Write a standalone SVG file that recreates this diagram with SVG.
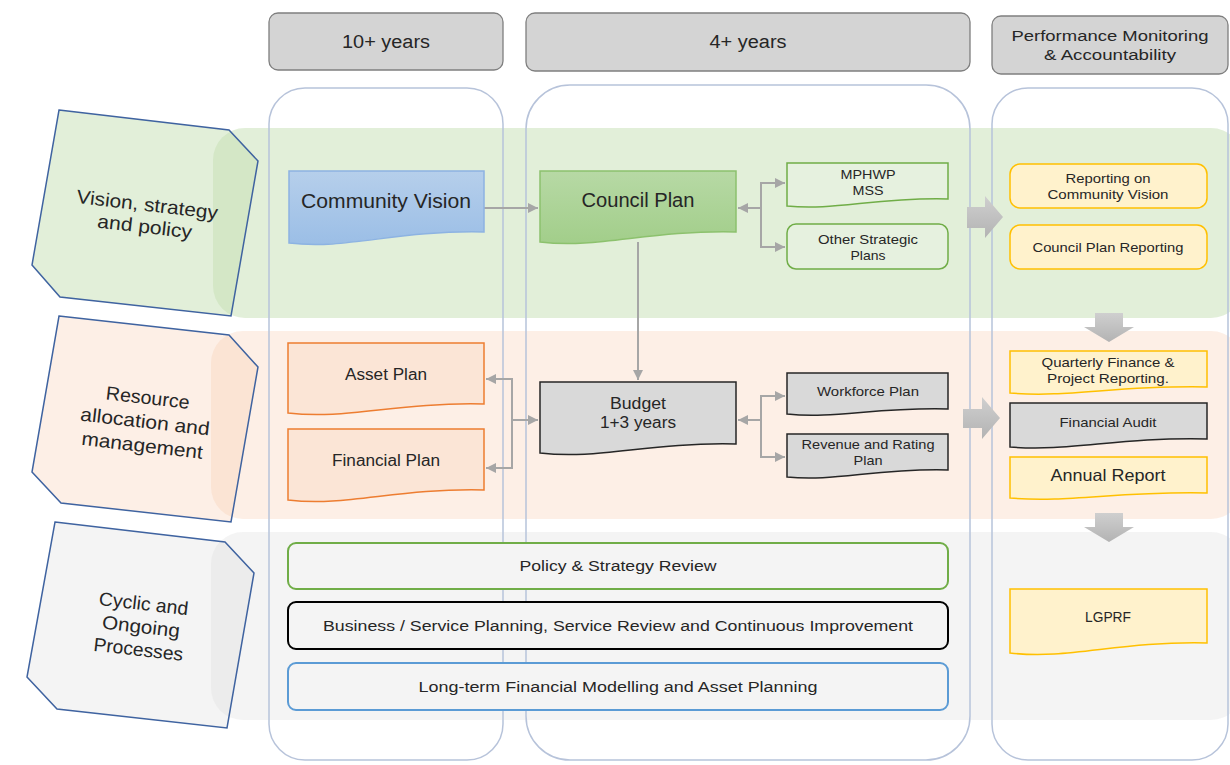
<svg xmlns="http://www.w3.org/2000/svg" width="1230" height="765" viewBox="0 0 1230 765">
<style>
text{font-family:"Liberation Sans",Arial,sans-serif;fill:#262626;text-anchor:middle}
.hdr{fill:#d4d4d4;stroke:#7f7f7f;stroke-width:1.3}
.col{fill:none;stroke:#b7c3da;stroke-width:1.5}
.lab{stroke:#3f63a0;stroke-width:1.5}
.con{fill:none;stroke:#a6a6a6;stroke-width:2}
.yel{fill:#fff2cc;stroke:#ffc000;stroke-width:1.5}
.gry{fill:#d9d9d9;stroke:#262626;stroke-width:1.5}
.org{fill:#fbe5d6;stroke:#ed7d31;stroke-width:1.5}
.grn{fill:#e6f1df;stroke:#70ad47;stroke-width:1.5}
.blk{fill:url(#ga)}
</style>
<defs>
<marker id="ah" viewBox="0 0 10 10" refX="10" refY="5" markerWidth="5" markerHeight="5" orient="auto-start-reverse"><path d="M0 0L10 5L0 10Z" fill="#a6a6a6"/></marker>
<linearGradient id="gb" x1="0" y1="0" x2="0" y2="1"><stop offset="0" stop-color="#b6cfeb"/><stop offset="1" stop-color="#9bbee6"/></linearGradient>
<linearGradient id="gg" x1="0" y1="0" x2="0" y2="1"><stop offset="0" stop-color="#b7d9a5"/><stop offset="1" stop-color="#a2ce8a"/></linearGradient>
<linearGradient id="ga" x1="0" y1="0" x2="0" y2="1"><stop offset="0" stop-color="#cfcfcf"/><stop offset="1" stop-color="#b3b3b3"/></linearGradient>
</defs>

<g id="bands">
<rect x="213" y="128" width="1030" height="190" rx="32" fill="#c5e0b3" fill-opacity="0.5"/>
<rect x="211" y="331" width="1032" height="188" rx="32" fill="#f8cbad" fill-opacity="0.3"/>
<rect x="211" y="532" width="1032" height="188" rx="32" fill="#d9d9d9" fill-opacity="0.28"/>
</g>

<g id="columns">
<rect class="col" x="269" y="88" width="234" height="672" rx="36"/>
<rect class="col" x="526" y="85" width="444" height="675" rx="44"/>
<rect class="col" x="992" y="88" width="236" height="672" rx="36"/>
</g>

<g id="headers">
<g id="h1"><rect class="hdr" x="269" y="13" width="234" height="57" rx="9"/><text x="386" y="48" font-size="18" textLength="88" lengthAdjust="spacingAndGlyphs">10+ years</text></g>
<g id="h2"><rect class="hdr" x="526" y="13" width="444" height="58" rx="9"/><text x="748" y="48" font-size="18" textLength="77" lengthAdjust="spacingAndGlyphs">4+ years</text></g>
<g id="h3"><rect class="hdr" x="992" y="16" width="236" height="58" rx="9"/><text x="1110" y="41" font-size="15.5" textLength="197" lengthAdjust="spacingAndGlyphs">Performance Monitoring</text><text x="1110" y="60" font-size="15.5" textLength="132" lengthAdjust="spacingAndGlyphs">&amp; Accountability</text></g>
</g>

<g id="label-vision">
<polygon class="lab" points="59,110 229,130 258,161 231,316 60,297 32,265" fill="#c5e0b3" fill-opacity="0.5"/>
<g transform="rotate(6.6 146 216)"><text x="146" y="211" font-size="19" textLength="142" lengthAdjust="spacingAndGlyphs">Vision, strategy</text><text x="146" y="233" font-size="19" textLength="95" lengthAdjust="spacingAndGlyphs">and policy</text></g>
</g>
<g id="label-resource">
<polygon class="lab" points="59,316 229,335 258,367 231,522 61,503 32,472" fill="#f8cbad" fill-opacity="0.3"/>
<g transform="rotate(6.6 145 422)"><text x="145" y="404" font-size="19" textLength="84" lengthAdjust="spacingAndGlyphs">Resource</text><text x="145" y="428" font-size="19" textLength="130" lengthAdjust="spacingAndGlyphs">allocation and</text><text x="145" y="452" font-size="19" textLength="122" lengthAdjust="spacingAndGlyphs">management</text></g>
</g>
<g id="label-cyclic">
<polygon class="lab" points="55,522 225,542 254,573 227,728 57,709 27,677" fill="#d9d9d9" fill-opacity="0.28"/>
<g transform="rotate(6.6 141 627)"><text x="141" y="610" font-size="19" textLength="90" lengthAdjust="spacingAndGlyphs">Cyclic and</text><text x="141" y="633" font-size="19" textLength="78" lengthAdjust="spacingAndGlyphs">Ongoing</text><text x="141" y="656" font-size="19" textLength="90" lengthAdjust="spacingAndGlyphs">Processes</text></g>
</g>

<g id="connectors">
<path class="con" d="M484 208H538" marker-end="url(#ah)"/>
<path class="con" d="M638 242V380" marker-end="url(#ah)"/>
<path class="con" d="M761 208H738" marker-end="url(#ah)"/>
<path class="con" d="M785 183H761V247H785" marker-start="url(#ah)" marker-end="url(#ah)"/>
<path class="con" d="M761 420H738" marker-end="url(#ah)"/>
<path class="con" d="M785 396H761V457H785" marker-start="url(#ah)" marker-end="url(#ah)"/>
<path class="con" d="M486 379H512V468H486" marker-start="url(#ah)" marker-end="url(#ah)"/>
<path class="con" d="M512 420H538" marker-end="url(#ah)"/>
</g>

<g id="block-arrows">
<path class="blk" d="M967 207H985V196L1003 217L985 238V228H967Z"/>
<path class="blk" d="M963 409H982V397L1000 418L982 439V428H963Z"/>
<path class="blk" d="M1095 313H1123V327H1134L1109 342L1084 327H1095Z"/>
<path class="blk" d="M1095 513H1123V527H1134L1109 542L1084 527H1095Z"/>
</g>

<g id="community-vision"><path d="M289 171H484V232C396 230 347 250 289 243Z" fill="url(#gb)" stroke="#8db3e2" stroke-width="1.5"/><text x="386" y="208" font-size="19.5" textLength="170" lengthAdjust="spacingAndGlyphs">Community Vision</text></g>
<g id="council-plan"><path d="M540 171H736V232C648 230 599 249 540 242Z" fill="url(#gg)" stroke="#8cc16d" stroke-width="1.5"/><text x="638" y="207" font-size="19.5" textLength="113" lengthAdjust="spacingAndGlyphs">Council Plan</text></g>
<g id="mphwp"><path class="grn" d="M787 163H948V199C876 197 835 211 787 206Z"/><text x="868" y="179" font-size="13.5" textLength="55" lengthAdjust="spacingAndGlyphs">MPHWP</text><text x="868" y="195" font-size="13.5" textLength="31" lengthAdjust="spacingAndGlyphs">MSS</text></g>
<g id="other-strategic"><rect class="grn" x="787" y="224" width="161" height="45" rx="9"/><text x="868" y="244" font-size="13.5" textLength="100" lengthAdjust="spacingAndGlyphs">Other Strategic</text><text x="868" y="260" font-size="13.5" textLength="35" lengthAdjust="spacingAndGlyphs">Plans</text></g>
<g id="reporting-cv"><rect class="yel" x="1010" y="164" width="197" height="44" rx="10"/><text x="1108" y="183" font-size="13.5" textLength="85" lengthAdjust="spacingAndGlyphs">Reporting on</text><text x="1108" y="199" font-size="13.5" textLength="121" lengthAdjust="spacingAndGlyphs">Community Vision</text></g>
<g id="council-plan-reporting"><rect class="yel" x="1010" y="225" width="197" height="44" rx="10"/><text x="1108" y="252" font-size="13.5" textLength="151" lengthAdjust="spacingAndGlyphs">Council Plan Reporting</text></g>

<g id="asset-plan"><path class="org" d="M288 343H484V404C396 402 347 420 288 413Z"/><text x="386" y="380" font-size="16" textLength="82" lengthAdjust="spacingAndGlyphs">Asset Plan</text></g>
<g id="financial-plan"><path class="org" d="M288 429H484V490C396 488 347 507 288 500Z"/><text x="386" y="466" font-size="16" textLength="108" lengthAdjust="spacingAndGlyphs">Financial Plan</text></g>
<g id="budget"><path class="gry" d="M540 382H736V444C648 442 599 460 540 453Z"/><text x="638" y="409" font-size="16" textLength="56" lengthAdjust="spacingAndGlyphs">Budget</text><text x="638" y="428" font-size="16" textLength="76" lengthAdjust="spacingAndGlyphs">1+3 years</text></g>
<g id="workforce-plan"><path class="gry" d="M787 373H948V409C876 407 835 419 787 414Z"/><text x="868" y="396" font-size="13.5" textLength="102" lengthAdjust="spacingAndGlyphs">Workforce Plan</text></g>
<g id="revenue-plan"><path class="gry" d="M787 434H948V470C876 468 835 482 787 477Z"/><text x="868" y="449" font-size="13.5" textLength="133" lengthAdjust="spacingAndGlyphs">Revenue and Rating</text><text x="868" y="465" font-size="13.5" textLength="29" lengthAdjust="spacingAndGlyphs">Plan</text></g>
<g id="quarterly"><path class="yel" d="M1010 351H1207V387C1118 385 1069 398 1010 393Z"/><text x="1108" y="367" font-size="13.5" textLength="133" lengthAdjust="spacingAndGlyphs">Quarterly Finance &amp;</text><text x="1108" y="383" font-size="13.5" textLength="122" lengthAdjust="spacingAndGlyphs">Project Reporting.</text></g>
<g id="financial-audit"><path class="gry" d="M1010 403H1207V439C1118 437 1069 452 1010 447Z"/><text x="1108" y="427" font-size="13.5" textLength="97" lengthAdjust="spacingAndGlyphs">Financial Audit</text></g>
<g id="annual-report"><path class="yel" d="M1010 457H1207V493C1118 491 1069 503 1010 498Z"/><text x="1108" y="481" font-size="16.5" textLength="115" lengthAdjust="spacingAndGlyphs">Annual Report</text></g>
<g id="lgprf"><path class="yel" d="M1010 589H1207V643C1118 641 1069 660 1010 653Z"/><text x="1108" y="622" font-size="14.5" textLength="46" lengthAdjust="spacingAndGlyphs">LGPRF</text></g>

<g id="policy-review"><rect x="288" y="543" width="660" height="46" rx="8" fill="#f4f4f4" stroke="#70ad47" stroke-width="2"/><text x="618" y="571" font-size="15.5" textLength="197" lengthAdjust="spacingAndGlyphs">Policy &amp; Strategy Review</text></g>
<g id="business-planning"><rect x="288" y="602" width="660" height="47" rx="8" fill="#f4f4f4" stroke="#000" stroke-width="2"/><text x="618" y="631" font-size="15.5" textLength="590" lengthAdjust="spacingAndGlyphs">Business / Service Planning, Service Review and Continuous Improvement</text></g>
<g id="financial-modelling"><rect x="288" y="663" width="660" height="47" rx="8" fill="#f4f4f4" stroke="#5b9bd5" stroke-width="2"/><text x="618" y="692" font-size="15.5" textLength="399" lengthAdjust="spacingAndGlyphs">Long-term Financial Modelling and Asset Planning</text></g>
</svg>
